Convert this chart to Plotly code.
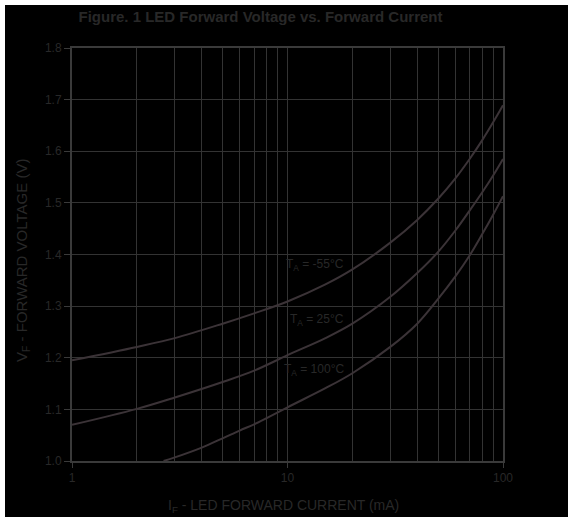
import math
import plotly.graph_objects as go

# ---- data ----
current_ma = [1, 2, 3, 5, 7, 10, 15, 20, 30, 40, 50, 60, 70, 80, 90, 100]
v_minus55 = [1.195, 1.221, 1.238, 1.266, 1.286, 1.309, 1.342, 1.371, 1.423, 1.467,
             1.508, 1.547, 1.585, 1.621, 1.656, 1.689]
v_25 = [1.070, 1.101, 1.123, 1.153, 1.175, 1.205, 1.238, 1.266, 1.318, 1.364,
        1.405, 1.446, 1.485, 1.520, 1.553, 1.585]
current_100_ma = [2.66, 3, 4, 5, 6, 7, 8, 10, 15, 20, 30, 40, 50, 60, 70, 80, 90, 100]
v_100 = [1.000, 1.007, 1.026, 1.044, 1.059, 1.071, 1.083, 1.104, 1.141, 1.170,
         1.221, 1.266, 1.314, 1.357, 1.398, 1.439, 1.477, 1.513]

x_tick_vals = [1, 10, 100]
x_tick_text = ["1", "10", "100"]
x_minor_vals = [2, 3, 4, 5, 6, 7, 8, 9, 20, 30, 40, 50, 60, 70, 80, 90]

label_texts = ["T<sub>A</sub> = -55°C", "T<sub>A</sub> = 25°C", "T<sub>A</sub> = 100°C"]
label_x_ma = [18.7, 18.7, 18.7]
label_y_v = [1.379, 1.273, 1.176]

# ---- style ----
W, H = 568, 517
ML, MR, MT, MB = 72, 65, 48, 56
PW, PH = W - ML - MR, H - MT - MB
FONT = "Liberation Sans, Arial, sans-serif"
TEXT = "#282828"
GRID = "#333333"
FRAME = "#3a3a3a"
CURVE = "#3b3337"


def px(xp):
    return (xp - ML) / PW


def py(yp):
    return (H - MB - yp) / PH


fig = go.Figure()
for xs, ys in [(current_ma, v_minus55), (current_ma, v_25), (current_100_ma, v_100)]:
    fig.add_trace(go.Scatter(x=xs, y=ys, mode="lines",
                             line=dict(color=CURVE, width=2, shape="spline", smoothing=1.0),
                             showlegend=False, hoverinfo="skip"))

for t, xv, yv in zip(label_texts, label_x_ma, label_y_v):
    fig.add_annotation(x=math.log10(xv), y=yv, xref="x", yref="y",
                       text=t, showarrow=False, xanchor="right", yanchor="middle",
                       font=dict(family=FONT, size=12, color=TEXT))

# axis titles
fig.add_annotation(x=px(283.5), y=py(506.5), xref="paper", yref="paper",
                   text="I<sub>F</sub> - LED FORWARD CURRENT (mA)", showarrow=False,
                   xanchor="center", yanchor="middle",
                   font=dict(family=FONT, size=14, color=TEXT))
fig.add_annotation(x=px(22), y=py(261), xref="paper", yref="paper",
                   text="V<sub>F</sub> - FORWARD VOLTAGE (V)", showarrow=False,
                   textangle=-90, xanchor="center", yanchor="middle",
                   font=dict(family=FONT, size=15, color=TEXT))

# white strips at top/left edge
fig.add_shape(type="rect", xref="paper", yref="paper", x0=px(0), x1=px(W), y0=py(0), y1=py(5),
              fillcolor="white", line_width=0, layer="above")
fig.add_shape(type="rect", xref="paper", yref="paper", x0=px(0), x1=px(5), y0=py(0), y1=py(H),
              fillcolor="white", line_width=0, layer="above")

fig.update_layout(
    width=W, height=H,
    margin=dict(l=ML, r=MR, t=MT, b=MB, pad=0),
    paper_bgcolor="black", plot_bgcolor="black",
    title=dict(text="<b>Figure. 1 LED Forward Voltage vs. Forward Current</b>",
               x=260.5 / W, xref="container", xanchor="center",
               y=1 - 17 / H, yref="container", yanchor="middle",
               font=dict(family=FONT, size=15, color=TEXT)),
    font=dict(family=FONT, color=TEXT),
)
fig.update_xaxes(type="log", range=[0, 2], tickvals=x_tick_vals, ticktext=x_tick_text,
                 showgrid=True, gridcolor=GRID, gridwidth=1,
                 minor=dict(tickvals=x_minor_vals, showgrid=True, gridcolor=GRID, gridwidth=1, ticks=""),
                 showline=True, linecolor=FRAME, linewidth=2, mirror=True,
                 ticks="outside", ticklen=5, tickcolor=FRAME, tickwidth=1,
                 tickfont=dict(family=FONT, size=12, color=TEXT), zeroline=False)
fig.update_yaxes(range=[1.0, 1.8], dtick=0.1, tick0=1.0, tickformat=".1f",
                 showgrid=True, gridcolor=GRID, gridwidth=1,
                 showline=True, linecolor=FRAME, linewidth=2, mirror=True,
                 ticks="outside", ticklen=6, tickcolor=FRAME, tickwidth=1,
                 tickfont=dict(family=FONT, size=12, color=TEXT), zeroline=False)

fig.write_html("out.html", config={"displayModeBar": False},
               post_script="document.body.style.margin='0';document.body.style.overflow='hidden';")
